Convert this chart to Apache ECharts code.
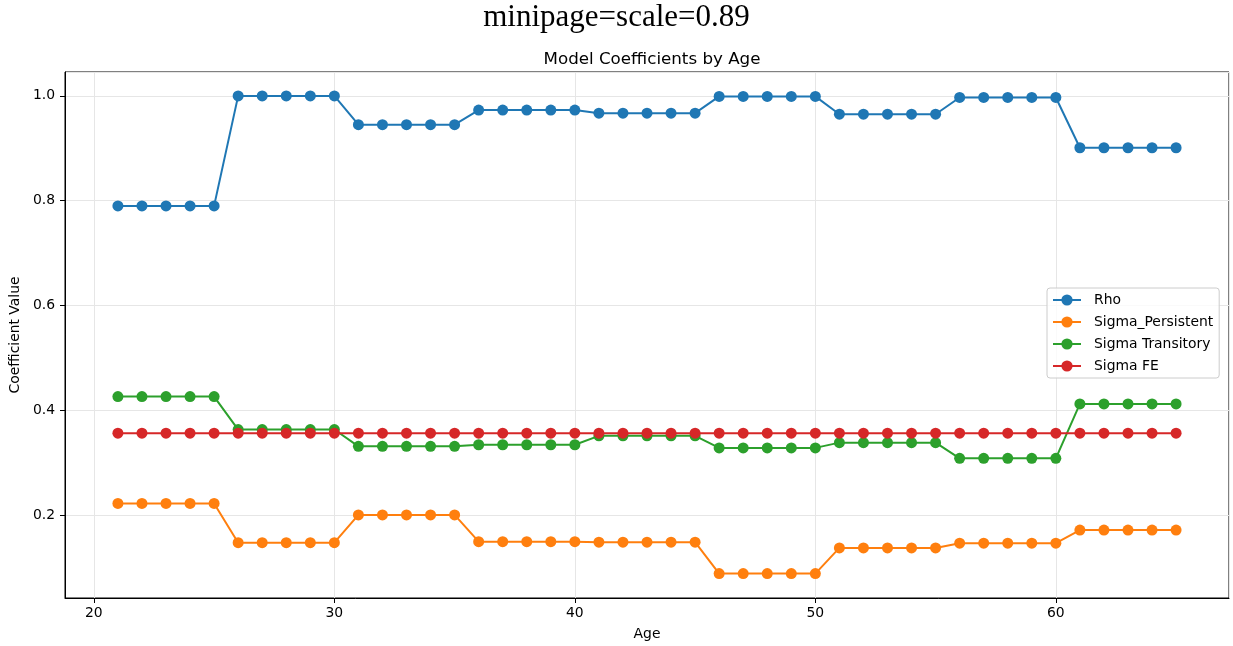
<!DOCTYPE html>
<html>
<head>
<meta charset="utf-8">
<script src="https://cdn.jsdelivr.net/npm/echarts@6/dist/echarts.min.js"></script>
<style>
html,body{margin:0;padding:0;background:#fff;}
#chart{width:1233px;height:646px;}
</style>
</head>
<body>
<div id="chart"></div>
<script>
const ages = [21,22,23,24,25,26,27,28,29,30,31,32,33,34,35,36,37,38,39,40,41,42,43,44,45,46,47,48,49,50,51,52,53,54,55,56,57,58,59,60,61,62,63,64,65];
const rho = [0.790,0.790,0.790,0.790,0.790, 1.000,1.000,1.000,1.000,1.000, 0.945,0.945,0.945,0.945,0.945, 0.973,0.973,0.973,0.973,0.973, 0.967,0.967,0.967,0.967,0.967, 0.999,0.999,0.999,0.999,0.999, 0.965,0.965,0.965,0.965,0.965, 0.997,0.997,0.997,0.997,0.997, 0.901,0.901,0.901,0.901,0.901];
const sigmaPersistent = [0.222,0.222,0.222,0.222,0.222, 0.147,0.147,0.147,0.147,0.147, 0.200,0.200,0.200,0.200,0.200, 0.149,0.149,0.149,0.149,0.149, 0.148,0.148,0.148,0.148,0.148, 0.088,0.088,0.088,0.088,0.088, 0.137,0.137,0.137,0.137,0.137, 0.146,0.146,0.146,0.146,0.146, 0.171,0.171,0.171,0.171,0.171];
const sigmaTransitory = [0.426,0.426,0.426,0.426,0.426, 0.363,0.363,0.363,0.363,0.363, 0.331,0.331,0.331,0.331,0.331, 0.334,0.334,0.334,0.334,0.334, 0.351,0.351,0.351,0.351,0.351, 0.328,0.328,0.328,0.328,0.328, 0.338,0.338,0.338,0.338,0.338, 0.308,0.308,0.308,0.308,0.308, 0.412,0.412,0.412,0.412,0.412];
const sigmaFE = [0.356,0.356,0.356,0.356,0.356,0.356,0.356,0.356,0.356,0.356,0.356,0.356,0.356,0.356,0.356,0.356,0.356,0.356,0.356,0.356,0.356,0.356,0.356,0.356,0.356,0.356,0.356,0.356,0.356,0.356,0.356,0.356,0.356,0.356,0.356,0.356,0.356,0.356,0.356,0.356,0.356,0.356,0.356,0.356,0.356];
const seriesNames = ['Rho','Sigma_Persistent','Sigma Transitory','Sigma FE'];
const colors = ['#1f77b4','#ff7f0e','#2ca02c','#d62728'];

const allSeries = [rho, sigmaPersistent, sigmaTransitory, sigmaFE];
const font = 'DejaVu Sans';

const chart = echarts.init(document.getElementById('chart'), null, {renderer:'canvas'});
const option = {
  animation: false,
  backgroundColor: '#ffffff',
  title: [
    {text: 'minipage=scale=0.89', left: 'center', top: -3,
     textStyle: {fontFamily: 'Liberation Serif', fontSize: 31, fontWeight: 'normal', color: '#000'}},
    {text: 'Model Coefficients by Age', left: 647, textAlign: 'center', top: 46,
     textStyle: {fontFamily: font, fontSize: 16.7, fontWeight: 'normal', color: '#000'}}
  ],
  grid: {left: 65, top: 72, width: 1164, height: 526, show: true, borderColor: '#000', borderWidth: 1, backgroundColor: 'transparent', containLabel: false},
  legend: {
    orient: 'vertical', left: 1047, top: 288,
    padding: [5, 6, 5, 5],
    itemWidth: 28, itemHeight: 14, itemGap: 8,
    backgroundColor: 'rgba(255,255,255,0.8)', borderColor: '#cccccc', borderWidth: 1, borderRadius: 3,
    textStyle: {fontFamily: font, fontSize: 13.9, color: '#000', padding: [0,0,0,8]},
    data: seriesNames
  },
  xAxis: {
    type: 'value', min: 18.8, max: 67.2, splitNumber: 5,
    name: 'Age', nameLocation: 'middle', nameGap: 29,
    nameTextStyle: {fontFamily: font, fontSize: 13.9, color: '#000'},
    axisLine: {show: true, onZero: false, lineStyle: {color: '#000', width: 1}},
    axisTick: {show: true, length: 5, lineStyle: {color: '#000'}},
    axisLabel: {fontFamily: font, fontSize: 13.9, color: '#000', margin: 8, showMinLabel: false, showMaxLabel: false},
    splitLine: {show: true, lineStyle: {color: '#e6e6e6', width: 1}}
  },
  yAxis: {
    type: 'value', min: 0.0414, max: 1.0456, splitNumber: 5,
    name: 'Coefficient Value', nameLocation: 'middle', nameGap: 41, nameRotate: 90,
    nameTextStyle: {fontFamily: font, fontSize: 13.9, color: '#000'},
    axisLine: {show: true, onZero: false, lineStyle: {color: '#000', width: 1}},
    axisTick: {show: true, length: 5, lineStyle: {color: '#000'}},
    axisLabel: {fontFamily: font, fontSize: 13.9, color: '#000', margin: 10, showMinLabel: false, showMaxLabel: false,
      formatter: v => v.toFixed(1)},
    splitLine: {show: true, lineStyle: {color: '#e6e6e6', width: 1}}
  },
  series: seriesNames.map((n, i) => ({
    name: n, type: 'line',
    data: ages.map((a, j) => [a, allSeries[i][j]]),
    symbol: 'circle', symbolSize: 11, showSymbol: true,
    lineStyle: {color: colors[i], width: 2},
    itemStyle: {color: colors[i]},
    emphasis: {disabled: true},
    z: 2 + i
  }))
};
chart.setOption(option);
</script>
</body>
</html>
